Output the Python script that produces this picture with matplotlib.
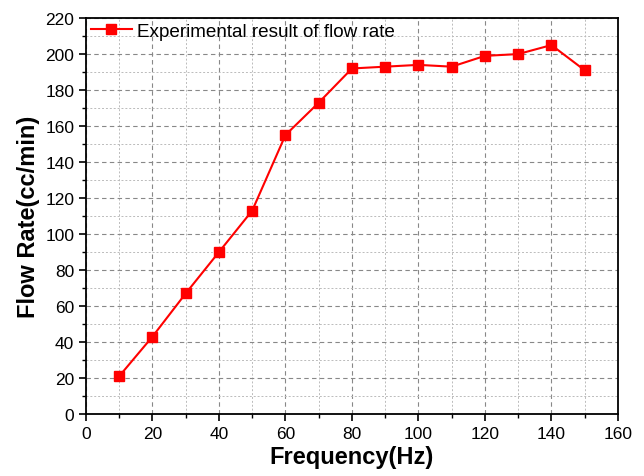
import matplotlib
matplotlib.use("Agg")
import matplotlib.pyplot as plt
from matplotlib.ticker import MultipleLocator

plt.rcParams['font.family'] = ['Liberation Sans', 'DejaVu Sans']

# Frequency (Hz) vs flow rate (cc/min)
frequency = [10, 20, 30, 40, 50, 60, 70, 80, 90, 100, 110, 120, 130, 140, 150]
flow_rate = [21, 43, 67, 90, 113, 155, 173, 192, 193, 194, 193, 199, 200, 205, 191]

fig = plt.figure(figsize=(6.44, 4.77), dpi=100)
ax = fig.add_axes([0.1335, 0.130, 0.826, 0.830])

ax.plot(frequency, flow_rate, color='red', linewidth=1.5, marker='s',
        markersize=7, label='Experimental result of flow rate', zorder=3)

ax.set_xlim(0, 160)
ax.set_ylim(0, 220)
ax.xaxis.set_major_locator(MultipleLocator(20))
ax.xaxis.set_minor_locator(MultipleLocator(10))
ax.yaxis.set_major_locator(MultipleLocator(20))
ax.yaxis.set_minor_locator(MultipleLocator(10))

ax.grid(which='major', color='#888888', linestyle=(0, (4, 3)), linewidth=0.8)
ax.grid(which='minor', color='#bbbbbb', linestyle=(0, (2, 2)), linewidth=0.7)
ax.set_axisbelow(True)

ax.tick_params(which='major', direction='out', length=5, width=1.2, labelsize=12.5)
ax.tick_params(which='minor', direction='out', length=3, width=1.0)
for s in ax.spines.values():
    s.set_linewidth(1.3)

ax.set_xlabel('Frequency(Hz)', fontsize=17, fontweight='bold', labelpad=3)
ax.set_ylabel('Flow Rate(cc/min)', fontsize=17, fontweight='bold')

ax.legend(loc='upper left', frameon=False, fontsize=13.6, handlelength=2.2,
          borderaxespad=0.05, borderpad=0.2, handletextpad=0.25)

fig.savefig('out.png', dpi=100)
